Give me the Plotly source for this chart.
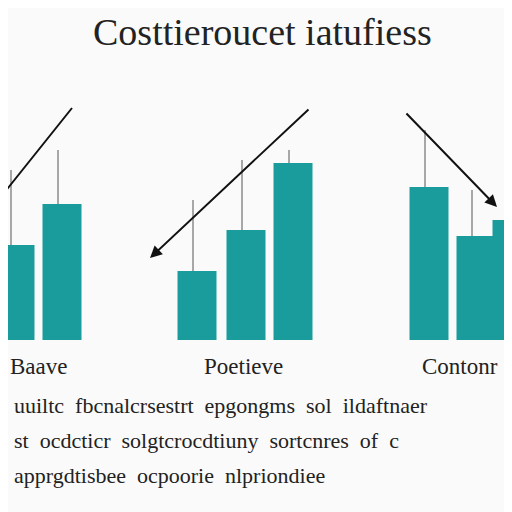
import plotly.graph_objects as go

bar_x = [15, 62, 197, 246, 293, 429, 476, 512]
bar_h = [95, 136, 69, 110, 177, 153, 104, 120]
stem_top = [170, 150, 200, 160, 150, 130, 190, 220]
group_labels = ["Baave", "Poetieve", "Contonr"]
label_x = [38, 243, 460]
title = "Costtieroucet iatufiess"
text_lines = ["uuiltc  fbcnalcrsestrt  epgongms  sol  ildaftnaer",
              "st  ocdcticr  solgtcrocdtiuny  sortcnres  of  c",
              "apprgdtisbee  ocpoorie  nlpriondiee"]

fig = go.Figure()
fig.add_bar(x=bar_x, y=bar_h, width=39, marker_color="#1b9c9c", marker_line_width=0)
for x, h, t in zip(bar_x, bar_h, stem_top):
    fig.add_shape(type="line", x0=x - 4, x1=x - 4, y0=h, y1=340 - t,
                  line=dict(color="#555", width=1))
fig.add_annotation(x=72, y=340 - 108, ax=0, ay=340 - 198, xref="x", yref="y", axref="x", ayref="y",
                   showarrow=True, arrowhead=0, arrowwidth=2, arrowcolor="#111", text="")
fig.add_annotation(x=150, y=340 - 258, ax=310, ay=340 - 108, xref="x", yref="y", axref="x", ayref="y",
                   showarrow=True, arrowhead=2, arrowsize=1.2, arrowwidth=2, arrowcolor="#111", text="")
fig.add_annotation(x=497, y=340 - 207, ax=405, ay=340 - 112, xref="x", yref="y", axref="x", ayref="y",
                   showarrow=True, arrowhead=2, arrowsize=1.2, arrowwidth=2, arrowcolor="#111", text="")
fig.add_annotation(x=262, y=340 - 32, text=title, showarrow=False,
                   font=dict(family="Liberation Serif", size=38, color="#222"))
for lx, lt in zip(label_x, group_labels):
    fig.add_annotation(x=lx, y=340 - 366, text=lt, showarrow=False,
                       font=dict(family="Liberation Serif", size=23, color="#222"))
for i, t in enumerate(text_lines):
    fig.add_annotation(x=12, y=340 - (405 + 35 * i), text=t, showarrow=False, xanchor="left",
                       font=dict(family="Liberation Serif", size=22, color="#222"))
fig.update_layout(width=512, height=512, margin=dict(l=0, r=0, t=0, b=0),
                  paper_bgcolor="#fafafa", plot_bgcolor="#fafafa", showlegend=False,
                  xaxis=dict(range=[8, 520], visible=False),
                  yaxis=dict(range=[-180, 332], visible=False))
fig.write_html("out.html")
